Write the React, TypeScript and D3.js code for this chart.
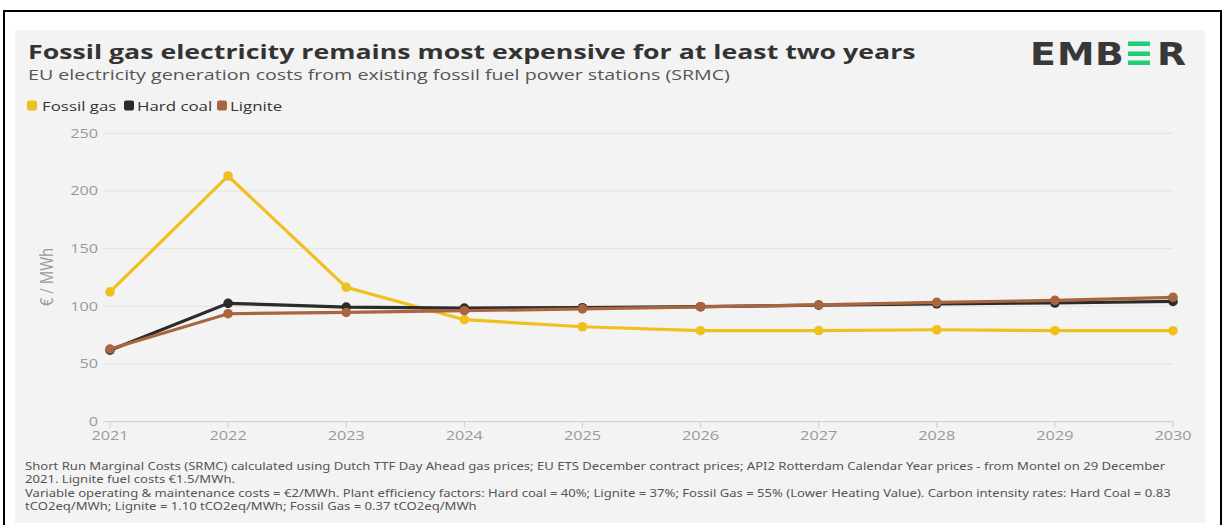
import React from "react";
import * as d3 from "d3";

const years = [2021, 2022, 2023, 2024, 2025, 2026, 2027, 2028, 2029, 2030];
const fossilGas = [112.5, 213, 116.5, 88.4, 82.3, 78.9, 79, 79.7, 78.9, 78.9];
const hardCoal = [62, 102.6, 99.4, 98.5, 98.8, 99.7, 101, 102.2, 102.9, 104.3];
const lignite = [63, 93.6, 94.7, 96.2, 97.8, 99.6, 101.3, 103.4, 105.2, 107.8];
const yTicks = [0, 50, 100, 150, 200, 250];

const seriesNames = ["Fossil gas", "Hard coal", "Lignite"];
const seriesColors = ["#f0c01e", "#2b2b2b", "#a8653f"];
const seriesData = [fossilGas, hardCoal, lignite];

const title = "Fossil gas electricity remains most expensive for at least two years";
const subtitle = "EU electricity generation costs from existing fossil fuel power stations (SRMC)";
const notes = [
  "Short Run Marginal Costs (SRMC) calculated using Dutch TTF Day Ahead gas prices; EU ETS December contract prices; API2 Rotterdam Calendar Year prices - from Montel on 29 December",
  "2021. Lignite fuel costs €1.5/MWh.",
  "Variable operating & maintenance costs = €2/MWh. Plant efficiency factors: Hard coal = 40%; Lignite = 37%; Fossil Gas = 55% (Lower Heating Value). Carbon intensity rates: Hard Coal = 0.83",
  "tCO2eq/MWh; Lignite = 1.10 tCO2eq/MWh; Fossil Gas = 0.37 tCO2eq/MWh",
];

function ST(props: any) {
  const { x, y, s = 1.25, children, ...rest } = props;
  return (
    <text transform={`translate(${x},${y}) scale(${s},1)`} {...rest}>
      {children}
    </text>
  );
}

export default function App() {
  const W = 1225, H = 525;
  const x = d3.scaleLinear().domain([2021, 2030]).range([110, 1173]);
  const y = d3.scaleLinear().domain([0, 250]).range([421.7, 133.3]);
  const line = d3
    .line<number>()
    .x((_, i) => x(years[i]))
    .y((d) => y(d));
  const font = "'Open Sans', 'Noto Sans', sans-serif";
  const legendSq = [27, 124, 217];
  const legendTx = [42, 137, 230];
  const logoLetters = [
    { t: "E", x: 1030 },
    { t: "M", x: 1057 },
    { t: "B", x: 1095 },
    { t: "R", x: 1157 },
  ];
  return (
    <svg
      width={W}
      height={H}
      style={{ position: "absolute", left: 0, top: 0, display: "block" }}
      fontFamily={font}
    >
      <rect x={0} y={0} width={W} height={H} fill="#ffffff" />
      <rect x={4} y={11} width={1217} height={530} fill="none" stroke="#000" strokeWidth={2} />
      <rect x={15} y={30} width={1190} height={493} fill="#f3f3f3" />
      <ST x={28} y={59} s={1.37} fontSize={19.5} fontWeight={700} fill="#333">
        {title}
      </ST>
      <ST x={28} y={80} s={1.31} fontSize={15} fill="#555">
        {subtitle}
      </ST>
      {/* Logo */}
      <g fontFamily="'DejaVu Sans', sans-serif" fontWeight={700} fontSize={32} fill="#383838">
        {logoLetters.map((l) => (
          <ST key={l.t} x={l.x} y={65} s={1.18}>
            {l.t}
          </ST>
        ))}
        <rect x={1128} y={41.5} width={22} height={4.5} fill="#1dcf76" />
        <rect x={1128} y={51.5} width={22} height={4.5} fill="#1dcf76" />
        <rect x={1128} y={60.5} width={22} height={4.5} fill="#1dcf76" />
      </g>
      {/* Legend */}
      {seriesNames.map((n, i) => (
        <g key={n}>
          <rect x={legendSq[i]} y={100.5} width={10} height={10} rx={2} fill={seriesColors[i]} />
          <ST x={legendTx[i]} y={111} s={1.25} fontSize={13.5} fill="#333">
            {n}
          </ST>
        </g>
      ))}
      {/* Grid */}
      {yTicks.map((t) => (
        <g key={t}>
          {t > 0 && (
            <line x1={103} x2={1173} y1={y(t)} y2={y(t)} stroke="#e2e2e2" strokeWidth={1} />
          )}
          <ST x={98} y={y(t) + 4.4} s={1.25} textAnchor="end" fontSize={13} fill="#999">
            {t}
          </ST>
        </g>
      ))}
      <line x1={103} x2={1173} y1={y(0)} y2={y(0)} stroke="#ccc" strokeWidth={1} />
      {years.map((yr) => (
        <g key={yr}>
          <line x1={x(yr)} x2={x(yr)} y1={y(0)} y2={y(0) + 6} stroke="#ccc" />
          <ST x={x(yr)} y={439.5} s={1.25} textAnchor="middle" fontSize={13} fill="#999">
            {yr}
          </ST>
        </g>
      ))}
      <text
        transform={`translate(53,277) rotate(-90) scale(1,1.25)`}
        textAnchor="middle"
        fontSize={15}
        fill="#999"
      >
        € / MWh
      </text>
      {[0, 1, 2].map((si) => (
        <g key={si}>
          <path d={line(seriesData[si]) || ""} fill="none" stroke={seriesColors[si]} strokeWidth={3.2} />
          {seriesData[si].map((v, i) => (
            <circle key={i} cx={x(years[i])} cy={y(v)} r={4.8} fill={seriesColors[si]} />
          ))}
        </g>
      ))}
      {/* Notes */}
      {notes.map((t, i) => (
        <ST
          key={i}
          x={25}
          y={469.5 + i * 13.5}
          s={1.27}
          fontSize={10.3}
          fill="#555"
          fontFamily="'Noto Sans', sans-serif"
        >
          {t}
        </ST>
      ))}
    </svg>
  );
}
